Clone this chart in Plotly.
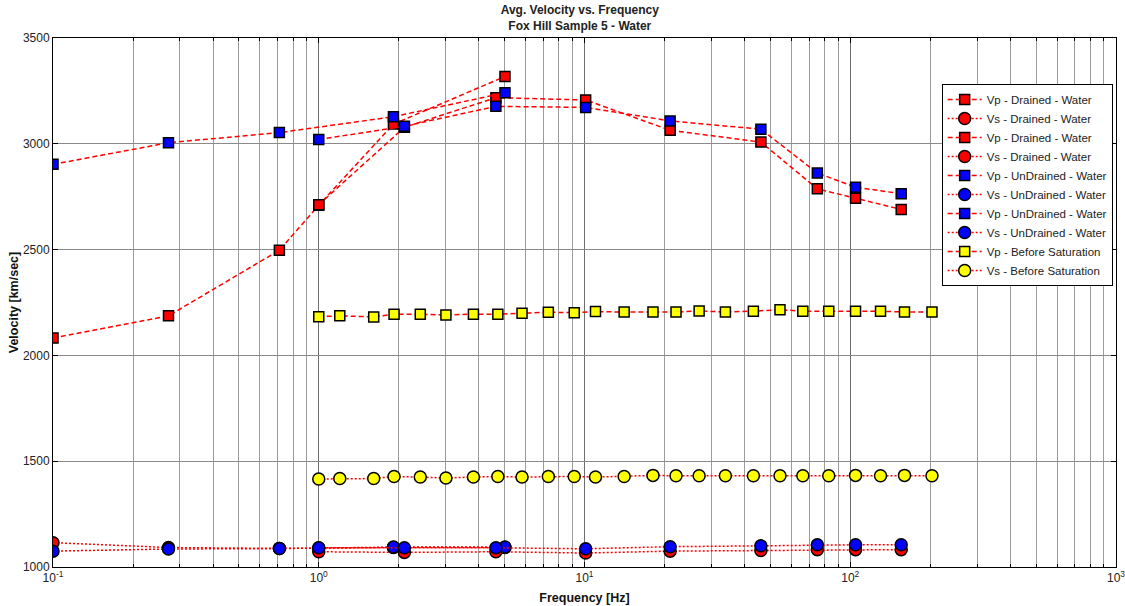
import plotly.graph_objects as go

# Frequencies [Hz] for the two test runs
freq_run_a_drained = [0.1, 0.272, 0.711, 1.0, 1.91, 5.02]
freq_run_a_undrained = [0.1, 0.272, 0.711, 1.91, 5.02]
freq_run_b = [1.0, 2.1, 4.64, 10.1, 21.0, 46.1, 75.2, 104.7, 155.5]
freq_before = [1.0, 1.2, 1.61, 1.92, 2.41, 3.01, 3.82, 4.72, 5.82, 7.31, 9.15, 11.0,
               14.1, 18.1, 22.1, 27.0, 33.9, 43.2, 54.4, 66.3, 83.0, 104.7, 130.0,
               160.0, 203.0]

# Velocities [km/sec]
vp_drained_a = [2082, 2187, 2497, 2710, 3093, 3318]
vs_drained_a = [1115, 1092, 1088, 1090, 1092, 1092]
vp_drained_b = [2712, 3078, 3218, 3207, 3064, 3008, 2787, 2743, 2690]
vs_drained_b = [1072, 1069, 1072, 1066, 1075, 1078, 1082, 1082, 1082]
vp_undrained_a = [2903, 3005, 3053, 3128, 3241]
vs_undrained_a = [1075, 1085, 1087, 1094, 1094]
vp_undrained_b = [3020, 3083, 3177, 3172, 3108, 3069, 2862, 2795, 2764]
vs_undrained_b = [1091, 1091, 1091, 1086, 1096, 1100, 1105, 1105, 1105]
vp_before = [2183, 2187, 2182, 2195, 2195, 2191, 2195, 2195, 2199, 2204, 2202, 2207,
             2205, 2205, 2205, 2210, 2205, 2209, 2216, 2209, 2209, 2209, 2209, 2205, 2205]
vs_before = [1416, 1418, 1418, 1428, 1425, 1421, 1425, 1428, 1425, 1428, 1428, 1425,
             1428, 1433, 1431, 1431, 1431, 1431, 1431, 1431, 1431, 1433, 1431, 1433, 1431]

# Axis ticks
x_major = [0.1, 1, 10, 100, 1000]
x_major_text = ["10<sup>-1</sup>", "10<sup>0</sup>", "10<sup>1</sup>",
                "10<sup>2</sup>", "10<sup>3</sup>"]
x_minor = [m * d for d in (0.1, 1, 10, 100) for m in range(2, 10)]
y_ticks = [1000, 1500, 2000, 2500, 3000, 3500]

FONT = "Liberation Sans, Arial, Helvetica, sans-serif"
DASH = "5px,3px"
DOT = "2px,2px"

series = [
    ("Vp - Drained - Water", freq_run_a_drained, vp_drained_a, "square", "red", DASH),
    ("Vs - Drained - Water", freq_run_a_drained, vs_drained_a, "circle", "red", DOT),
    ("Vp - Drained - Water", freq_run_b, vp_drained_b, "square", "red", DASH),
    ("Vs - Drained - Water", freq_run_b, vs_drained_b, "circle", "red", DOT),
    ("Vp - UnDrained - Water", freq_run_a_undrained, vp_undrained_a, "square", "blue", DASH),
    ("Vs - UnDrained - Water", freq_run_a_undrained, vs_undrained_a, "circle", "blue", DOT),
    ("Vp - UnDrained - Water", freq_run_b, vp_undrained_b, "square", "blue", DASH),
    ("Vs - UnDrained - Water", freq_run_b, vs_undrained_b, "circle", "blue", DOT),
    ("Vp - Before Saturation", freq_before, vp_before, "square", "yellow", DASH),
    ("Vs - Before Saturation", freq_before, vs_before, "circle", "yellow", DOT),
]

fig = go.Figure()
for name, fx, fy, symbol, fill, dash in series:
    fig.add_trace(go.Scatter(
        x=fx, y=fy, name=name, mode="lines+markers",
        line=dict(color="red", width=1.5, dash=dash),
        marker=dict(symbol=symbol, color=fill,
                    size=10 if symbol == "square" else 12,
                    line=dict(color="black", width=1.5)),
    ))

fig.update_layout(
    width=1125, height=606,
    margin=dict(l=53, r=9, t=38, b=39, autoexpand=False),
    paper_bgcolor="white", plot_bgcolor="white",
    font=dict(family=FONT, size=12, color="#222"),
    title=dict(
        text="<b>Avg. Velocity vs. Frequency<br>Fox Hill Sample 5 - Water</b>",
        x=0.5154, xanchor="center", y=0.977, yanchor="top",
        font=dict(family=FONT, size=12, color="#222"),
    ),
    legend=dict(
        x=0.836, xanchor="left", y=0.913, yanchor="top",
        bgcolor="white", bordercolor="black", borderwidth=1,
        font=dict(family=FONT, size=11.5, color="#222"),
        itemwidth=34, tracegroupgap=0,
    ),
    showlegend=True,
)

fig.update_xaxes(
    type="log", range=[-1, 3], automargin=False, ticklabeloverflow="allow",
    tickmode="array", tickvals=x_major, ticktext=x_major_text,
    ticks="inside", ticklen=5, tickcolor="black",
    showline=True, linecolor="black", linewidth=1, mirror="allticks",
    showgrid=True, gridcolor="#6e6e6e", gridwidth=1,
    minor=dict(tickmode="array", tickvals=x_minor, ticks="inside", ticklen=3,
               tickcolor="black", showgrid=True, gridcolor="#9c9c9c", gridwidth=1),
    zeroline=False,
    tickfont=dict(family=FONT, size=12, color="#222"),
    title=dict(text="<b>Frequency [Hz]</b>", standoff=8,
               font=dict(family=FONT, size=12.5, color="#111")),
)
fig.update_yaxes(
    range=[1000, 3500], tickmode="array", tickvals=y_ticks, automargin=False,
    ticklabeloverflow="allow",
    ticks="inside", ticklen=5, tickcolor="black",
    showline=True, linecolor="black", linewidth=1, mirror="allticks",
    showgrid=True, gridcolor="#8a8a8a", gridwidth=1, zeroline=False,
    tickfont=dict(family=FONT, size=12, color="#222"),
    title=dict(text="<b>Velocity [km/sec]</b>", standoff=1,
               font=dict(family=FONT, size=12.5, color="#111")),
)

fig.write_html("out.html")
